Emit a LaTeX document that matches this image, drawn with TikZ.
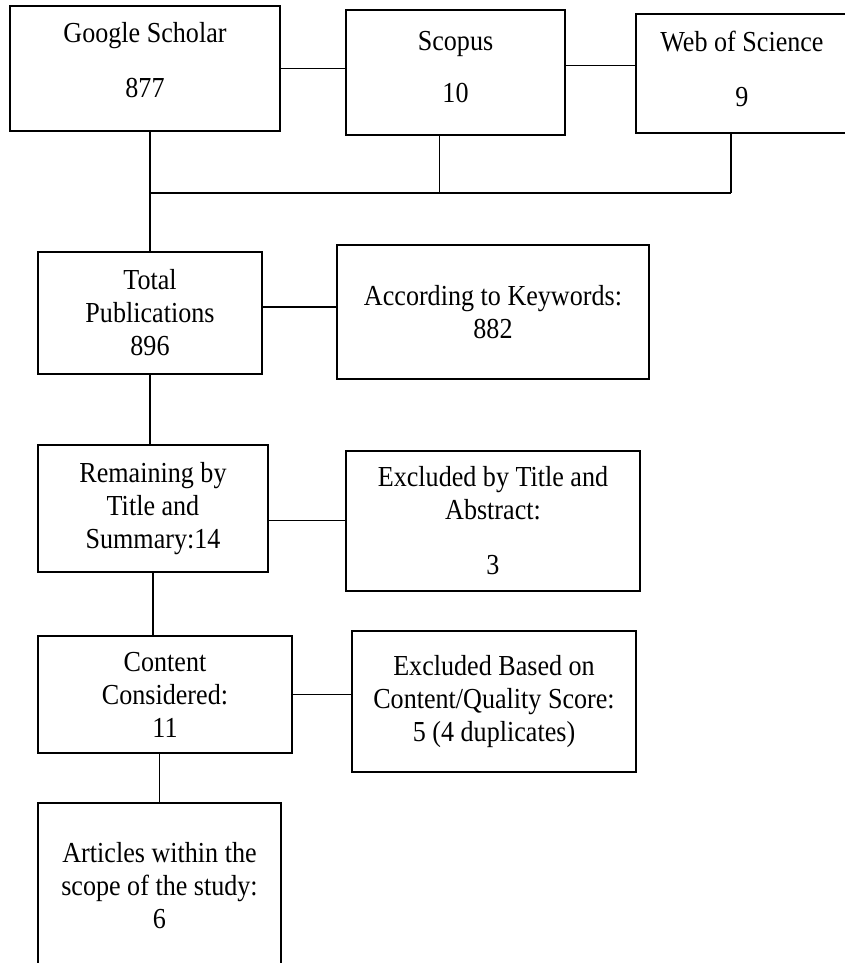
\documentclass[tikz,border=0pt]{standalone}
\usepackage{fontspec}
\setmainfont{Liberation Serif}[FakeStretch=0.9]

\begin{document}
\begin{tikzpicture}[x=1pt, y=-1pt,
    stage/.style ={rectangle, draw, line width=1.5pt, align=center, inner sep=0pt,
      font=\fontsize{29}{33}\selectfont},
    link/.style ={line width=1.5pt}]
   \useasboundingbox (0,0) rectangle (844,963);
   % sources
   \node[stage, minimum width=270pt, minimum height=125pt] (GS) at (145,68.5) {Google Scholar\\[22pt]\raisebox{0pt}[\height][\dimexpr\depth+16pt]{877}};
   \node[stage, minimum width=219pt, minimum height=125pt] (SC) at (455.5,72.5) {Scopus\\[19pt]\raisebox{0pt}[\height][\dimexpr\depth+10pt]{10}};
   \node[stage, minimum width=212pt, minimum height=119pt] (WS) at (742,73.5) {Web of Science\\[22pt]\raisebox{0pt}[\height][\dimexpr\depth+9pt]{9}};
   % screening
   \node[stage, minimum width=224pt, minimum height=122pt] (TP) at (150,313) {Total\\Publications\\896};
   \node[stage, minimum width=312pt, minimum height=134pt] (KW) at (493,312) {According to Keywords:\\882};
   \node[stage, minimum width=230pt, minimum height=127pt] (RT) at (153,508.5) {Remaining by\\Title and\\Summary:14};
   \node[stage, minimum width=294pt, minimum height=140pt] (ET) at (493,521) {Excluded by Title and\\Abstract:\\[22pt]3};
   \node[stage, minimum width=254pt, minimum height=117pt] (CC) at (165,694.5) {Content\\Considered:\\11};
   \node[stage, minimum width=284pt, minimum height=141pt] (EQ) at (494,701.5) {Excluded Based on\\Content/Quality Score:\\5 (4 duplicates)};
   \node[stage, minimum width=243pt, minimum height=165pt] (AS) at (159.5,885.5) {Articles within the\\scope of the study:\\6};
   \coordinate (M) at (0,193);
   % connectors
   \draw[link] (GS.east) -- (GS.east -| SC.west);
   \draw[link] ([yshift=7pt]SC.east) -- ([yshift=7pt]SC.east -| WS.west);
   \draw[link] ([xshift=-16pt]SC.south) -- ([xshift=-16pt]SC.south |- M);
   \draw[link] ([xshift=-11pt]WS.south) -- ([xshift=-11pt]WS.south |- M);
   \draw[link] (TP.north |- M) -- ([xshift=-11pt]WS.south |- M);
   \draw[link] (TP.north |- GS.south) -- (TP.north);
   \draw[link] ([yshift=6pt]TP.east) -- ([yshift=6pt]TP.east -| KW.west);
   \draw[link] (TP.south) -- (TP.south |- RT.north);
   \draw[link] ([yshift=-12pt]RT.east) -- ([yshift=-12pt]RT.east -| ET.west);
   \draw[link] (RT.south) -- (RT.south |- CC.north);
   \draw[link] (CC.east) -- (EQ.west |- CC.east);
   \draw[link] (AS.north |- CC.south) -- (AS.north);
 \end{tikzpicture}
\end{document}
